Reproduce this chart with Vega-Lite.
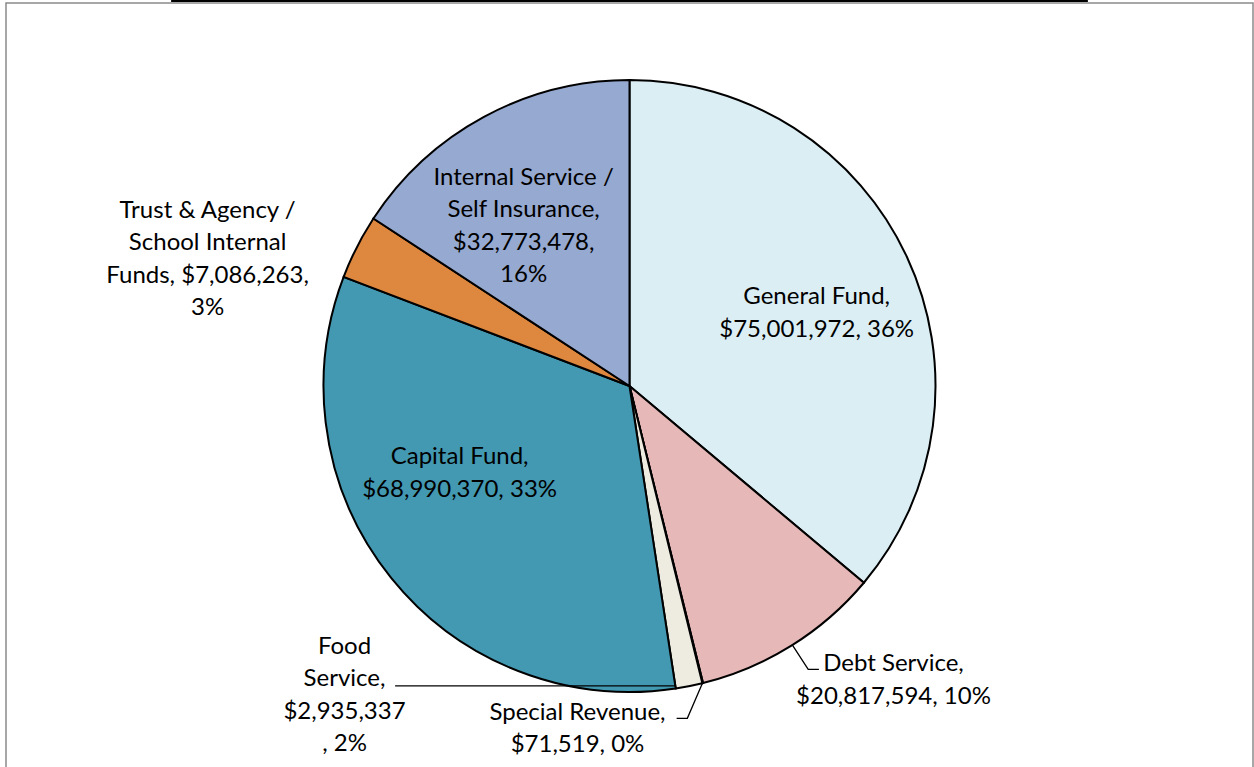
{
  "$schema": "https://vega.github.io/schema/vega-lite/v6.json",
  "width": 1247,
  "height": 766,
  "autosize": {"type": "none"},
  "padding": {"left": 6, "top": 3, "right": 1, "bottom": 0},
  "background": "white",
  "config": {
    "view": {"stroke": "#8a8a8a", "strokeWidth": 1.5},
    "text": {"font": "Lato", "fontSize": 24, "color": "#000000"}
  },
  "datasets": {
    "funds": [
      {"idx": 1, "fund": "General Fund", "amount": 75001972, "label": "General Fund,\n$75,001,972, 36%"},
      {"idx": 2, "fund": "Debt Service", "amount": 20817594, "label": "Debt Service,\n$20,817,594, 10%"},
      {"idx": 3, "fund": "Special Revenue", "amount": 71519, "label": "Special Revenue,\n$71,519, 0%"},
      {"idx": 4, "fund": "Food Service", "amount": 2935337, "label": "Food\nService,\n$2,935,337\n, 2%"},
      {"idx": 5, "fund": "Capital Fund", "amount": 68990370, "label": "Capital Fund,\n$68,990,370, 33%"},
      {"idx": 6, "fund": "Trust & Agency / School Internal Funds", "amount": 7086263, "label": "Trust & Agency /\nSchool Internal\nFunds, $7,086,263,\n3%"},
      {"idx": 7, "fund": "Internal Service / Self Insurance", "amount": 32773478, "label": "Internal Service /\nSelf Insurance,\n$32,773,478,\n16%"}
    ],
    "leaders": [
      {"lid": "debt", "ord": 1, "x": 0.532, "y": -0.846},
      {"lid": "debt", "ord": 2, "x": 0.584, "y": -0.926},
      {"lid": "debt", "ord": 3, "x": 0.619, "y": -0.926},
      {"lid": "food", "ord": 1, "x": -0.766, "y": -0.98},
      {"lid": "food", "ord": 2, "x": 0.152, "y": -0.98},
      {"lid": "sr", "ord": 1, "x": 0.154, "y": -1.086},
      {"lid": "sr", "ord": 2, "x": 0.189, "y": -1.086},
      {"lid": "sr", "ord": 3, "x": 0.239, "y": -0.97}
    ],
    "frame": [
      {"x": -1.498, "x2": 1.498, "y": 1.2581}
    ]
  },
  "data": {"name": "funds"},
  "encoding": {
    "theta": {"field": "amount", "type": "quantitative", "stack": true},
    "order": {"field": "idx", "type": "quantitative"}
  },
  "layer": [
    {
      "mark": {"type": "arc", "outerRadius": 306, "stroke": "#000000", "strokeWidth": 2},
      "encoding": {
        "color": {
          "field": "fund",
          "type": "nominal",
          "scale": {
            "domain": ["General Fund", "Debt Service", "Special Revenue", "Food Service", "Capital Fund", "Trust & Agency / School Internal Funds", "Internal Service / Self Insurance"],
            "range": ["#DBEEF4", "#E6B9B8", "#C0504D", "#EEECE1", "#4399B1", "#DE873F", "#95A9D1"]
          },
          "legend": null
        }
      }
    },
    {
      "mark": {"type": "text", "radius": 201, "dx": 5, "dy": -4, "lineBreak": "\n", "lineHeight": 32.5, "align": "center", "baseline": "middle"},
      "encoding": {"text": {"condition": {"test": "datum.idx === 1", "field": "label"}, "value": ""}}
    },
    {
      "mark": {"type": "text", "radius": 395, "dx": 55, "dy": -57, "lineBreak": "\n", "lineHeight": 32.5, "align": "center", "baseline": "middle"},
      "encoding": {"text": {"condition": {"test": "datum.idx === 2", "field": "label"}, "value": ""}}
    },
    {
      "mark": {"type": "text", "radius": 347, "dx": -135, "dy": -10, "lineBreak": "\n", "lineHeight": 32.5, "align": "center", "baseline": "middle"},
      "encoding": {"text": {"condition": {"test": "datum.idx === 3", "field": "label"}, "value": ""}}
    },
    {
      "mark": {"type": "text", "radius": 421, "dx": -367, "dy": -152, "lineBreak": "\n", "lineHeight": 32.5, "align": "center", "baseline": "middle"},
      "encoding": {"text": {"condition": {"test": "datum.idx === 4", "field": "label"}, "value": ""}}
    },
    {
      "mark": {"type": "text", "radius": 190, "dx": -22, "dy": -48, "lineBreak": "\n", "lineHeight": 32.5, "align": "center", "baseline": "middle"},
      "encoding": {"text": {"condition": {"test": "datum.idx === 5", "field": "label"}, "value": ""}}
    },
    {
      "mark": {"type": "text", "radius": 440, "dx": -30, "dy": 25, "lineBreak": "\n", "lineHeight": 32.5, "align": "center", "baseline": "middle"},
      "encoding": {"text": {"condition": {"test": "datum.idx === 6", "field": "label"}, "value": ""}}
    },
    {
      "mark": {"type": "text", "radius": 191, "dx": -15, "dy": -40, "lineBreak": "\n", "lineHeight": 32.5, "align": "center", "baseline": "middle"},
      "encoding": {"text": {"condition": {"test": "datum.idx === 7", "field": "label"}, "value": ""}}
    },
    {
      "data": {"name": "leaders"},
      "mark": {"type": "line", "color": "#000000", "strokeWidth": 1.3},
      "encoding": {
        "theta": null,
        "order": {"field": "ord", "type": "quantitative"},
        "x": {"field": "x", "type": "quantitative", "scale": {"domain": [-2.0376, 2.0376], "nice": false, "zero": false}, "axis": null},
        "y": {"field": "y", "type": "quantitative", "scale": {"domain": [-1.2516, 1.2516], "nice": false, "zero": false}, "axis": null},
        "detail": {"field": "lid", "type": "nominal"}
      }
    },
    {
      "data": {"name": "frame"},
      "mark": {"type": "rule", "color": "#000000", "strokeWidth": 2.2},
      "encoding": {
        "theta": null,
        "order": null,
        "x": {"field": "x", "type": "quantitative", "scale": {"domain": [-2.0376, 2.0376], "nice": false, "zero": false}, "axis": null},
        "x2": {"field": "x2"},
        "y": {"field": "y", "type": "quantitative", "scale": {"domain": [-1.2516, 1.2516], "nice": false, "zero": false}, "axis": null}
      }
    }
  ]
}
